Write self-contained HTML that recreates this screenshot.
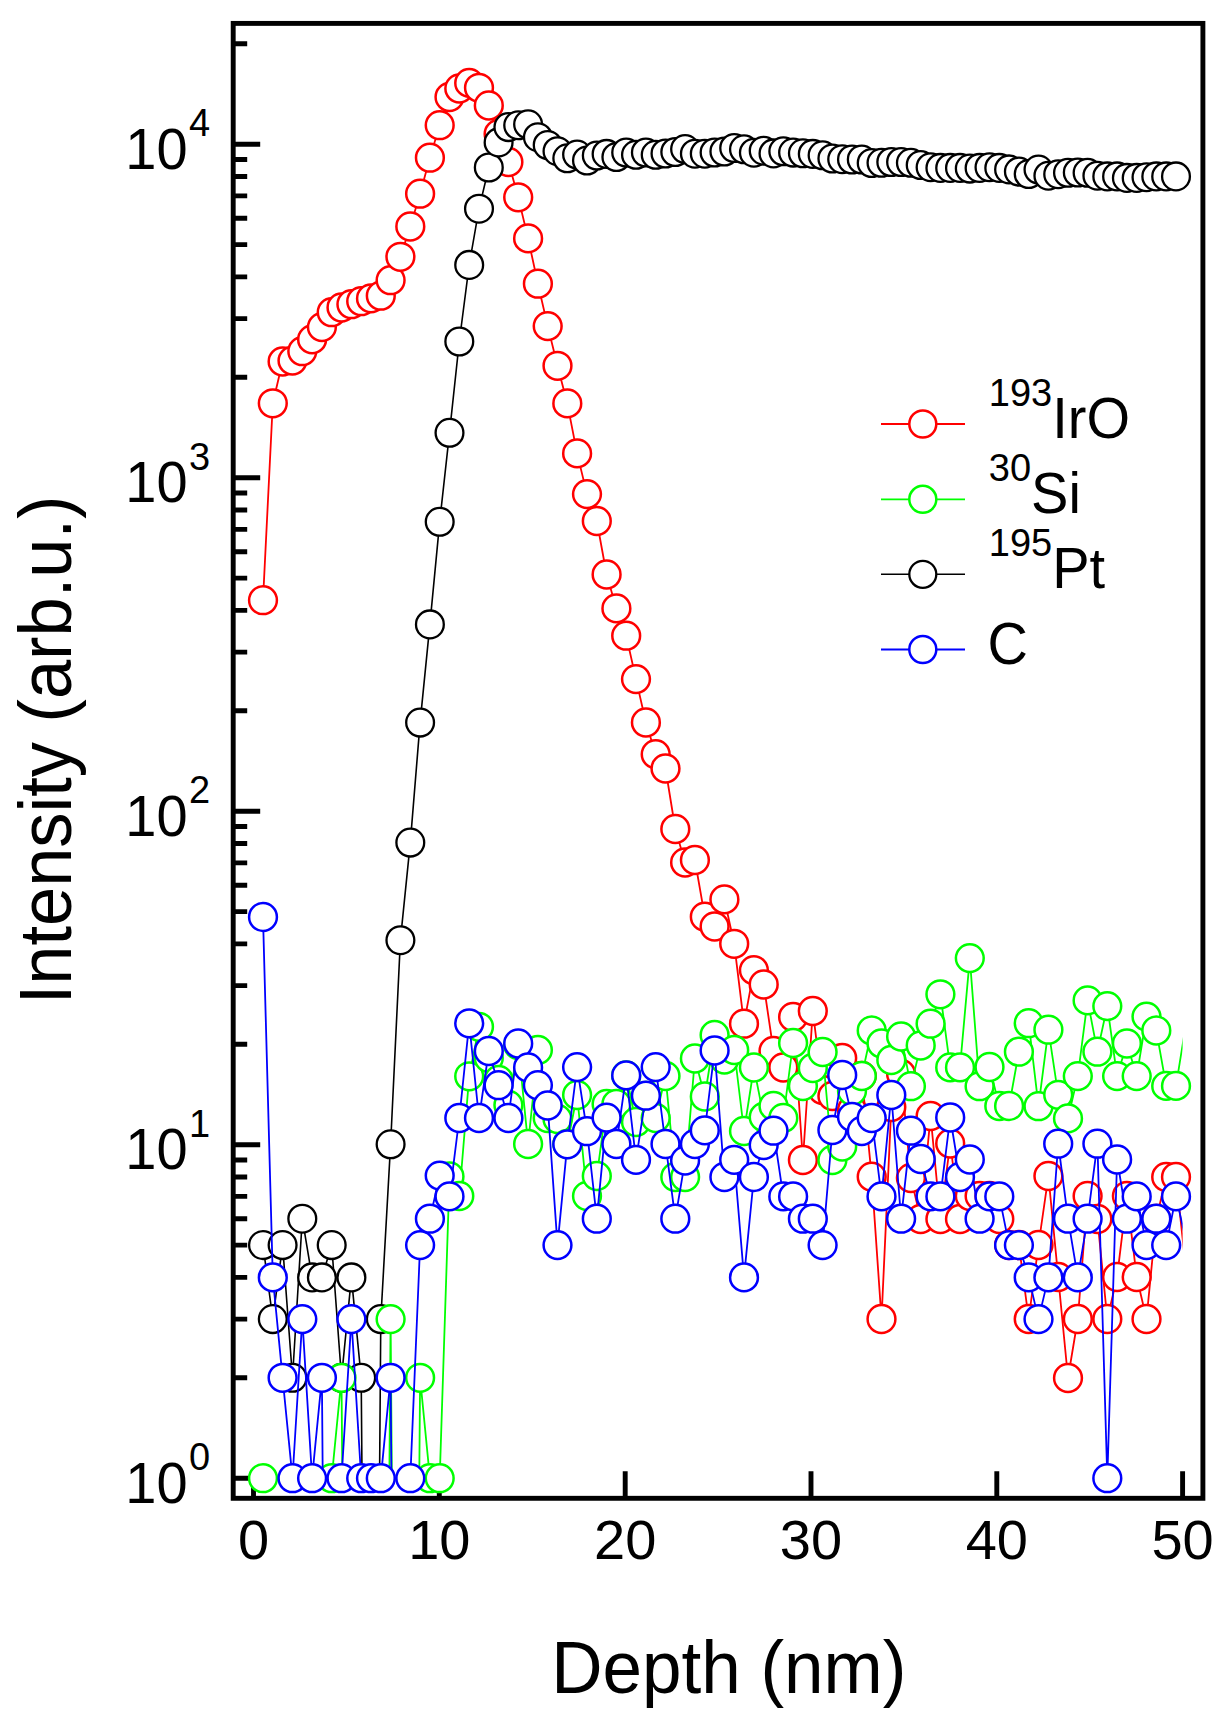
<!DOCTYPE html>
<html><head><meta charset="utf-8"><title>Depth profile</title><style>
html,body{margin:0;padding:0;background:#fff;width:1228px;height:1724px;overflow:hidden}
svg{display:block}
text{font-family:"Liberation Sans",sans-serif;fill:#000}
</style></head><body>
<svg width="1228" height="1724" viewBox="0 0 1228 1724">
<rect x="0" y="0" width="1228" height="1724" fill="#fff"/>
<defs><clipPath id="cl"><rect x="253.5" y="43.8" width="929.1" height="1434.4"/></clipPath></defs>
<rect x="233.2" y="23.4" width="969.7" height="1474.9" fill="none" stroke="#000" stroke-width="4.9"/>
<path d="M233.2 1478.2 H260.2 M233.2 1377.8 H247.2 M233.2 1319.1 H247.2 M233.2 1277.4 H247.2 M233.2 1245.1 H247.2 M233.2 1218.7 H247.2 M233.2 1196.4 H247.2 M233.2 1177 H247.2 M233.2 1160 H247.2 M233.2 1144.7 H260.2 M233.2 1044.3 H247.2 M233.2 985.6 H247.2 M233.2 943.9 H247.2 M233.2 911.6 H247.2 M233.2 885.2 H247.2 M233.2 862.9 H247.2 M233.2 843.5 H247.2 M233.2 826.5 H247.2 M233.2 811.2 H260.2 M233.2 710.8 H247.2 M233.2 652.1 H247.2 M233.2 610.4 H247.2 M233.2 578.1 H247.2 M233.2 551.7 H247.2 M233.2 529.4 H247.2 M233.2 510 H247.2 M233.2 493 H247.2 M233.2 477.7 H260.2 M233.2 377.3 H247.2 M233.2 318.6 H247.2 M233.2 276.9 H247.2 M233.2 244.6 H247.2 M233.2 218.2 H247.2 M233.2 195.9 H247.2 M233.2 176.5 H247.2 M233.2 159.5 H247.2 M233.2 144.2 H260.2 M233.2 43.8 H247.2 M253.5 1498.3 V1471.3 M439.3 1498.3 V1471.3 M625.2 1498.3 V1471.3 M811 1498.3 V1471.3 M996.8 1498.3 V1471.3 M1182.6 1498.3 V1471.3" stroke="#000" stroke-width="4.9" fill="none"/>
<path d="M263 600.2 L272.8 403.3 L282.6 361.5 L292.5 360.6 L302.3 351.2 L312.1 339.4 L321.9 327.1 L331.7 312.2 L341.5 307.5 L351.4 304.2 L361.2 301.2 L371 298.4 L380.8 295.7 L390.6 280.2 L400.4 256.8 L410.3 226.5 L420.1 193.7 L429.9 157.7 L439.7 125.2 L449.5 97 L459.3 88.5 L469.2 82.9 L479 87.8 L488.8 105.5 L498.6 134 L508.4 162 L518.2 197.3 L528.1 238.4 L537.9 283.7 L547.7 326.1 L557.5 365.8 L567.3 403.4 L577.1 453.4 L587 494.1 L596.8 521 L606.6 574.5 L616.4 608.4 L626.2 635.7 L636 679.1 L645.9 722.5 L655.7 754.2 L665.5 768.5 L675.3 829 L685.1 862.5 L694.9 860 L704.8 916.7 L714.6 926.5 L724.4 899.4 L734.2 943.8 L744 1023.7 L753.9 970.2 L763.7 984.5 L773.5 1051 L783.3 1067.5 L793.1 1017 L802.9 1160 L812.8 1011 L822.6 1090 L832.4 1096 L842.2 1058 L852 1110 L861.8 1076 L871.7 1176.7 L881.5 1319 L891.3 1107 L901.1 1074 L910.9 1178 L920.7 1219 L930.6 1116 L940.4 1219 L950.2 1143.5 L960 1219 L969.8 1196 L979.6 1196 L989.5 1196 L999.3 1219 L1009.1 1245 L1018.9 1245 L1028.7 1319 L1038.5 1245 L1048.4 1176 L1058.2 1277 L1068 1378 L1077.8 1319 L1087.6 1196 L1097.4 1219 L1107.3 1319 L1117.1 1277 L1126.9 1196 L1136.7 1277 L1146.5 1319 L1156.3 1219 L1166.2 1177 L1176 1177 L1185.8 1268" fill="none" stroke="#ff0000" stroke-width="1.8" stroke-linejoin="round" clip-path="url(#cl)"/>
<g fill="#fff" stroke="#ff0000" stroke-width="2.5">
<circle cx="263" cy="600.2" r="13.9"/>
<circle cx="272.8" cy="403.3" r="13.9"/>
<circle cx="282.6" cy="361.5" r="13.9"/>
<circle cx="292.5" cy="360.6" r="13.9"/>
<circle cx="302.3" cy="351.2" r="13.9"/>
<circle cx="312.1" cy="339.4" r="13.9"/>
<circle cx="321.9" cy="327.1" r="13.9"/>
<circle cx="331.7" cy="312.2" r="13.9"/>
<circle cx="341.5" cy="307.5" r="13.9"/>
<circle cx="351.4" cy="304.2" r="13.9"/>
<circle cx="361.2" cy="301.2" r="13.9"/>
<circle cx="371" cy="298.4" r="13.9"/>
<circle cx="380.8" cy="295.7" r="13.9"/>
<circle cx="390.6" cy="280.2" r="13.9"/>
<circle cx="400.4" cy="256.8" r="13.9"/>
<circle cx="410.3" cy="226.5" r="13.9"/>
<circle cx="420.1" cy="193.7" r="13.9"/>
<circle cx="429.9" cy="157.7" r="13.9"/>
<circle cx="439.7" cy="125.2" r="13.9"/>
<circle cx="449.5" cy="97" r="13.9"/>
<circle cx="459.3" cy="88.5" r="13.9"/>
<circle cx="469.2" cy="82.9" r="13.9"/>
<circle cx="479" cy="87.8" r="13.9"/>
<circle cx="488.8" cy="105.5" r="13.9"/>
<circle cx="498.6" cy="134" r="13.9"/>
<circle cx="508.4" cy="162" r="13.9"/>
<circle cx="518.2" cy="197.3" r="13.9"/>
<circle cx="528.1" cy="238.4" r="13.9"/>
<circle cx="537.9" cy="283.7" r="13.9"/>
<circle cx="547.7" cy="326.1" r="13.9"/>
<circle cx="557.5" cy="365.8" r="13.9"/>
<circle cx="567.3" cy="403.4" r="13.9"/>
<circle cx="577.1" cy="453.4" r="13.9"/>
<circle cx="587" cy="494.1" r="13.9"/>
<circle cx="596.8" cy="521" r="13.9"/>
<circle cx="606.6" cy="574.5" r="13.9"/>
<circle cx="616.4" cy="608.4" r="13.9"/>
<circle cx="626.2" cy="635.7" r="13.9"/>
<circle cx="636" cy="679.1" r="13.9"/>
<circle cx="645.9" cy="722.5" r="13.9"/>
<circle cx="655.7" cy="754.2" r="13.9"/>
<circle cx="665.5" cy="768.5" r="13.9"/>
<circle cx="675.3" cy="829" r="13.9"/>
<circle cx="685.1" cy="862.5" r="13.9"/>
<circle cx="694.9" cy="860" r="13.9"/>
<circle cx="704.8" cy="916.7" r="13.9"/>
<circle cx="714.6" cy="926.5" r="13.9"/>
<circle cx="724.4" cy="899.4" r="13.9"/>
<circle cx="734.2" cy="943.8" r="13.9"/>
<circle cx="744" cy="1023.7" r="13.9"/>
<circle cx="753.9" cy="970.2" r="13.9"/>
<circle cx="763.7" cy="984.5" r="13.9"/>
<circle cx="773.5" cy="1051" r="13.9"/>
<circle cx="783.3" cy="1067.5" r="13.9"/>
<circle cx="793.1" cy="1017" r="13.9"/>
<circle cx="802.9" cy="1160" r="13.9"/>
<circle cx="812.8" cy="1011" r="13.9"/>
<circle cx="822.6" cy="1090" r="13.9"/>
<circle cx="832.4" cy="1096" r="13.9"/>
<circle cx="842.2" cy="1058" r="13.9"/>
<circle cx="852" cy="1110" r="13.9"/>
<circle cx="861.8" cy="1076" r="13.9"/>
<circle cx="871.7" cy="1176.7" r="13.9"/>
<circle cx="881.5" cy="1319" r="13.9"/>
<circle cx="891.3" cy="1107" r="13.9"/>
<circle cx="901.1" cy="1074" r="13.9"/>
<circle cx="910.9" cy="1178" r="13.9"/>
<circle cx="920.7" cy="1219" r="13.9"/>
<circle cx="930.6" cy="1116" r="13.9"/>
<circle cx="940.4" cy="1219" r="13.9"/>
<circle cx="950.2" cy="1143.5" r="13.9"/>
<circle cx="960" cy="1219" r="13.9"/>
<circle cx="969.8" cy="1196" r="13.9"/>
<circle cx="979.6" cy="1196" r="13.9"/>
<circle cx="989.5" cy="1196" r="13.9"/>
<circle cx="999.3" cy="1219" r="13.9"/>
<circle cx="1009.1" cy="1245" r="13.9"/>
<circle cx="1018.9" cy="1245" r="13.9"/>
<circle cx="1028.7" cy="1319" r="13.9"/>
<circle cx="1038.5" cy="1245" r="13.9"/>
<circle cx="1048.4" cy="1176" r="13.9"/>
<circle cx="1058.2" cy="1277" r="13.9"/>
<circle cx="1068" cy="1378" r="13.9"/>
<circle cx="1077.8" cy="1319" r="13.9"/>
<circle cx="1087.6" cy="1196" r="13.9"/>
<circle cx="1097.4" cy="1219" r="13.9"/>
<circle cx="1107.3" cy="1319" r="13.9"/>
<circle cx="1117.1" cy="1277" r="13.9"/>
<circle cx="1126.9" cy="1196" r="13.9"/>
<circle cx="1136.7" cy="1277" r="13.9"/>
<circle cx="1146.5" cy="1319" r="13.9"/>
<circle cx="1156.3" cy="1219" r="13.9"/>
<circle cx="1166.2" cy="1177" r="13.9"/>
<circle cx="1176" cy="1177" r="13.9"/>
</g>
<path d="M263 1245.1 L272.8 1319.1 L282.6 1245.1 L292.5 1377.8 L302.3 1218.7 L312.1 1277.4 L321.9 1277.4 L331.7 1245.1 L341.5 1377.8 L351.4 1277.4 L361.2 1377.8 L371 2570 L380.8 1319.1 L390.6 1144.3 L400.4 940.2 L410.3 842.6 L420.1 722.6 L429.9 624.4 L439.7 521.8 L449.5 432.8 L459.3 341.5 L469.2 264.9 L479 208.7 L488.8 167.5 L498.6 142.4 L508.4 127.1 L518.2 125.3 L528.1 124.3 L537.9 137.2 L547.7 145 L557.5 151.2 L567.3 158.3 L577.1 154.6 L587 160.5 L596.8 155.5 L606.6 153.9 L616.4 157 L626.2 152.5 L636 154.8 L645.9 152.5 L655.7 154.8 L665.5 153.5 L675.3 152 L685.1 149.1 L694.9 153.7 L704.8 153.7 L714.6 152.5 L724.4 151.5 L734.2 148 L744 149.3 L753.9 152.7 L763.7 150.7 L773.5 153.4 L783.3 151.3 L793.1 152.6 L802.9 153.3 L812.8 153.9 L822.6 155.3 L832.4 158.5 L842.2 159.2 L852 159.5 L861.8 159.5 L871.7 163 L881.5 162.8 L891.3 162 L901.1 162 L910.9 162.8 L920.7 165 L930.6 167.2 L940.4 167.9 L950.2 167.9 L960 167.9 L969.8 168.6 L979.6 167.9 L989.5 167.2 L999.3 167.9 L1009.1 169.4 L1018.9 171.6 L1028.7 174 L1038.5 169.6 L1048.4 175.7 L1058.2 174.2 L1068 172.8 L1077.8 172.5 L1087.6 172.8 L1097.4 175.7 L1107.3 176.4 L1117.1 176.4 L1126.9 177.9 L1136.7 177.9 L1146.5 177.2 L1156.3 176.4 L1166.2 176.4 L1176 176.4 L1185.8 176" fill="none" stroke="#000000" stroke-width="1.6" stroke-linejoin="round" clip-path="url(#cl)"/>
<g fill="#fff" stroke="#000000" stroke-width="2.3">
<circle cx="263" cy="1245.1" r="13.9"/>
<circle cx="272.8" cy="1319.1" r="13.9"/>
<circle cx="282.6" cy="1245.1" r="13.9"/>
<circle cx="292.5" cy="1377.8" r="13.9"/>
<circle cx="302.3" cy="1218.7" r="13.9"/>
<circle cx="312.1" cy="1277.4" r="13.9"/>
<circle cx="321.9" cy="1277.4" r="13.9"/>
<circle cx="331.7" cy="1245.1" r="13.9"/>
<circle cx="341.5" cy="1377.8" r="13.9"/>
<circle cx="351.4" cy="1277.4" r="13.9"/>
<circle cx="361.2" cy="1377.8" r="13.9"/>
<circle cx="380.8" cy="1319.1" r="13.9"/>
<circle cx="390.6" cy="1144.3" r="13.9"/>
<circle cx="400.4" cy="940.2" r="13.9"/>
<circle cx="410.3" cy="842.6" r="13.9"/>
<circle cx="420.1" cy="722.6" r="13.9"/>
<circle cx="429.9" cy="624.4" r="13.9"/>
<circle cx="439.7" cy="521.8" r="13.9"/>
<circle cx="449.5" cy="432.8" r="13.9"/>
<circle cx="459.3" cy="341.5" r="13.9"/>
<circle cx="469.2" cy="264.9" r="13.9"/>
<circle cx="479" cy="208.7" r="13.9"/>
<circle cx="488.8" cy="167.5" r="13.9"/>
<circle cx="498.6" cy="142.4" r="13.9"/>
<circle cx="508.4" cy="127.1" r="13.9"/>
<circle cx="518.2" cy="125.3" r="13.9"/>
<circle cx="528.1" cy="124.3" r="13.9"/>
<circle cx="537.9" cy="137.2" r="13.9"/>
<circle cx="547.7" cy="145" r="13.9"/>
<circle cx="557.5" cy="151.2" r="13.9"/>
<circle cx="567.3" cy="158.3" r="13.9"/>
<circle cx="577.1" cy="154.6" r="13.9"/>
<circle cx="587" cy="160.5" r="13.9"/>
<circle cx="596.8" cy="155.5" r="13.9"/>
<circle cx="606.6" cy="153.9" r="13.9"/>
<circle cx="616.4" cy="157" r="13.9"/>
<circle cx="626.2" cy="152.5" r="13.9"/>
<circle cx="636" cy="154.8" r="13.9"/>
<circle cx="645.9" cy="152.5" r="13.9"/>
<circle cx="655.7" cy="154.8" r="13.9"/>
<circle cx="665.5" cy="153.5" r="13.9"/>
<circle cx="675.3" cy="152" r="13.9"/>
<circle cx="685.1" cy="149.1" r="13.9"/>
<circle cx="694.9" cy="153.7" r="13.9"/>
<circle cx="704.8" cy="153.7" r="13.9"/>
<circle cx="714.6" cy="152.5" r="13.9"/>
<circle cx="724.4" cy="151.5" r="13.9"/>
<circle cx="734.2" cy="148" r="13.9"/>
<circle cx="744" cy="149.3" r="13.9"/>
<circle cx="753.9" cy="152.7" r="13.9"/>
<circle cx="763.7" cy="150.7" r="13.9"/>
<circle cx="773.5" cy="153.4" r="13.9"/>
<circle cx="783.3" cy="151.3" r="13.9"/>
<circle cx="793.1" cy="152.6" r="13.9"/>
<circle cx="802.9" cy="153.3" r="13.9"/>
<circle cx="812.8" cy="153.9" r="13.9"/>
<circle cx="822.6" cy="155.3" r="13.9"/>
<circle cx="832.4" cy="158.5" r="13.9"/>
<circle cx="842.2" cy="159.2" r="13.9"/>
<circle cx="852" cy="159.5" r="13.9"/>
<circle cx="861.8" cy="159.5" r="13.9"/>
<circle cx="871.7" cy="163" r="13.9"/>
<circle cx="881.5" cy="162.8" r="13.9"/>
<circle cx="891.3" cy="162" r="13.9"/>
<circle cx="901.1" cy="162" r="13.9"/>
<circle cx="910.9" cy="162.8" r="13.9"/>
<circle cx="920.7" cy="165" r="13.9"/>
<circle cx="930.6" cy="167.2" r="13.9"/>
<circle cx="940.4" cy="167.9" r="13.9"/>
<circle cx="950.2" cy="167.9" r="13.9"/>
<circle cx="960" cy="167.9" r="13.9"/>
<circle cx="969.8" cy="168.6" r="13.9"/>
<circle cx="979.6" cy="167.9" r="13.9"/>
<circle cx="989.5" cy="167.2" r="13.9"/>
<circle cx="999.3" cy="167.9" r="13.9"/>
<circle cx="1009.1" cy="169.4" r="13.9"/>
<circle cx="1018.9" cy="171.6" r="13.9"/>
<circle cx="1028.7" cy="174" r="13.9"/>
<circle cx="1038.5" cy="169.6" r="13.9"/>
<circle cx="1048.4" cy="175.7" r="13.9"/>
<circle cx="1058.2" cy="174.2" r="13.9"/>
<circle cx="1068" cy="172.8" r="13.9"/>
<circle cx="1077.8" cy="172.5" r="13.9"/>
<circle cx="1087.6" cy="172.8" r="13.9"/>
<circle cx="1097.4" cy="175.7" r="13.9"/>
<circle cx="1107.3" cy="176.4" r="13.9"/>
<circle cx="1117.1" cy="176.4" r="13.9"/>
<circle cx="1126.9" cy="177.9" r="13.9"/>
<circle cx="1136.7" cy="177.9" r="13.9"/>
<circle cx="1146.5" cy="177.2" r="13.9"/>
<circle cx="1156.3" cy="176.4" r="13.9"/>
<circle cx="1166.2" cy="176.4" r="13.9"/>
<circle cx="1176" cy="176.4" r="13.9"/>
</g>
<path d="M263 1478.2 L272.8 2570 L282.6 2570 L292.5 2570 L302.3 2570 L312.1 2570 L321.9 2570 L331.7 1478.2 L341.5 1377.8 L351.4 2570 L361.2 2570 L371 2570 L380.8 2570 L390.6 1319.1 L400.4 2570 L410.3 2570 L420.1 1377.8 L429.9 1478.2 L439.7 1478.2 L449.5 1176.4 L459.3 1196 L469.2 1076.3 L479 1026.8 L488.8 1058 L498.6 1080 L508.4 1105 L518.2 1045 L528.1 1144 L537.9 1050 L547.7 1118 L557.5 1119 L567.3 1144 L577.1 1095 L587 1196 L596.8 1176 L606.6 1104 L616.4 1104 L626.2 1075.4 L636 1122 L645.9 1096 L655.7 1118 L665.5 1076 L675.3 1177 L685.1 1177 L694.9 1058.5 L704.8 1096.5 L714.6 1035 L724.4 1059.5 L734.2 1050 L744 1131 L753.9 1067.5 L763.7 1117 L773.5 1106 L783.3 1118 L793.1 1043 L802.9 1086 L812.8 1068 L822.6 1052 L832.4 1160 L842.2 1146.5 L852 1091 L861.8 1076 L871.7 1030.5 L881.5 1043.5 L891.3 1060 L901.1 1036.5 L910.9 1086.2 L920.7 1045.5 L930.6 1023.7 L940.4 994.3 L950.2 1067.4 L960 1067.4 L969.8 958.1 L979.6 1086.2 L989.5 1067 L999.3 1106 L1009.1 1106 L1018.9 1051.7 L1028.7 1023.2 L1038.5 1106.2 L1048.4 1029.7 L1058.2 1094.8 L1068 1118.4 L1077.8 1076.1 L1087.6 1000.4 L1097.4 1051.7 L1107.3 1006.1 L1117.1 1076.1 L1126.9 1043.5 L1136.7 1076.1 L1146.5 1016.6 L1156.3 1030.5 L1166.2 1085.9 L1176 1085.9 L1185.8 1025" fill="none" stroke="#00ff00" stroke-width="1.8" stroke-linejoin="round" clip-path="url(#cl)"/>
<g fill="#fff" stroke="#00ff00" stroke-width="2.5">
<circle cx="263" cy="1478.2" r="13.9"/>
<circle cx="331.7" cy="1478.2" r="13.9"/>
<circle cx="341.5" cy="1377.8" r="13.9"/>
<circle cx="390.6" cy="1319.1" r="13.9"/>
<circle cx="420.1" cy="1377.8" r="13.9"/>
<circle cx="429.9" cy="1478.2" r="13.9"/>
<circle cx="439.7" cy="1478.2" r="13.9"/>
<circle cx="449.5" cy="1176.4" r="13.9"/>
<circle cx="459.3" cy="1196" r="13.9"/>
<circle cx="469.2" cy="1076.3" r="13.9"/>
<circle cx="479" cy="1026.8" r="13.9"/>
<circle cx="488.8" cy="1058" r="13.9"/>
<circle cx="498.6" cy="1080" r="13.9"/>
<circle cx="508.4" cy="1105" r="13.9"/>
<circle cx="518.2" cy="1045" r="13.9"/>
<circle cx="528.1" cy="1144" r="13.9"/>
<circle cx="537.9" cy="1050" r="13.9"/>
<circle cx="547.7" cy="1118" r="13.9"/>
<circle cx="557.5" cy="1119" r="13.9"/>
<circle cx="567.3" cy="1144" r="13.9"/>
<circle cx="577.1" cy="1095" r="13.9"/>
<circle cx="587" cy="1196" r="13.9"/>
<circle cx="596.8" cy="1176" r="13.9"/>
<circle cx="606.6" cy="1104" r="13.9"/>
<circle cx="616.4" cy="1104" r="13.9"/>
<circle cx="626.2" cy="1075.4" r="13.9"/>
<circle cx="636" cy="1122" r="13.9"/>
<circle cx="645.9" cy="1096" r="13.9"/>
<circle cx="655.7" cy="1118" r="13.9"/>
<circle cx="665.5" cy="1076" r="13.9"/>
<circle cx="675.3" cy="1177" r="13.9"/>
<circle cx="685.1" cy="1177" r="13.9"/>
<circle cx="694.9" cy="1058.5" r="13.9"/>
<circle cx="704.8" cy="1096.5" r="13.9"/>
<circle cx="714.6" cy="1035" r="13.9"/>
<circle cx="724.4" cy="1059.5" r="13.9"/>
<circle cx="734.2" cy="1050" r="13.9"/>
<circle cx="744" cy="1131" r="13.9"/>
<circle cx="753.9" cy="1067.5" r="13.9"/>
<circle cx="763.7" cy="1117" r="13.9"/>
<circle cx="773.5" cy="1106" r="13.9"/>
<circle cx="783.3" cy="1118" r="13.9"/>
<circle cx="793.1" cy="1043" r="13.9"/>
<circle cx="802.9" cy="1086" r="13.9"/>
<circle cx="812.8" cy="1068" r="13.9"/>
<circle cx="822.6" cy="1052" r="13.9"/>
<circle cx="832.4" cy="1160" r="13.9"/>
<circle cx="842.2" cy="1146.5" r="13.9"/>
<circle cx="852" cy="1091" r="13.9"/>
<circle cx="861.8" cy="1076" r="13.9"/>
<circle cx="871.7" cy="1030.5" r="13.9"/>
<circle cx="881.5" cy="1043.5" r="13.9"/>
<circle cx="891.3" cy="1060" r="13.9"/>
<circle cx="901.1" cy="1036.5" r="13.9"/>
<circle cx="910.9" cy="1086.2" r="13.9"/>
<circle cx="920.7" cy="1045.5" r="13.9"/>
<circle cx="930.6" cy="1023.7" r="13.9"/>
<circle cx="940.4" cy="994.3" r="13.9"/>
<circle cx="950.2" cy="1067.4" r="13.9"/>
<circle cx="960" cy="1067.4" r="13.9"/>
<circle cx="969.8" cy="958.1" r="13.9"/>
<circle cx="979.6" cy="1086.2" r="13.9"/>
<circle cx="989.5" cy="1067" r="13.9"/>
<circle cx="999.3" cy="1106" r="13.9"/>
<circle cx="1009.1" cy="1106" r="13.9"/>
<circle cx="1018.9" cy="1051.7" r="13.9"/>
<circle cx="1028.7" cy="1023.2" r="13.9"/>
<circle cx="1038.5" cy="1106.2" r="13.9"/>
<circle cx="1048.4" cy="1029.7" r="13.9"/>
<circle cx="1058.2" cy="1094.8" r="13.9"/>
<circle cx="1068" cy="1118.4" r="13.9"/>
<circle cx="1077.8" cy="1076.1" r="13.9"/>
<circle cx="1087.6" cy="1000.4" r="13.9"/>
<circle cx="1097.4" cy="1051.7" r="13.9"/>
<circle cx="1107.3" cy="1006.1" r="13.9"/>
<circle cx="1117.1" cy="1076.1" r="13.9"/>
<circle cx="1126.9" cy="1043.5" r="13.9"/>
<circle cx="1136.7" cy="1076.1" r="13.9"/>
<circle cx="1146.5" cy="1016.6" r="13.9"/>
<circle cx="1156.3" cy="1030.5" r="13.9"/>
<circle cx="1166.2" cy="1085.9" r="13.9"/>
<circle cx="1176" cy="1085.9" r="13.9"/>
</g>
<path d="M263 917 L272.8 1277.4 L282.6 1377.8 L292.5 1478.2 L302.3 1319.1 L312.1 1478.2 L321.9 1377.8 L331.7 2570 L341.5 1478.2 L351.4 1319.1 L361.2 1478.2 L371 1478.2 L380.8 1478.2 L390.6 1377.8 L400.4 2570 L410.3 1478.2 L420.1 1245.1 L429.9 1218.7 L439.7 1175.6 L449.5 1196.4 L459.3 1118 L469.2 1023.3 L479 1118 L488.8 1051 L498.6 1085.2 L508.4 1118 L518.2 1043.5 L528.1 1067.5 L537.9 1085.2 L547.7 1105.5 L557.5 1245.1 L567.3 1144.3 L577.1 1067.1 L587 1131.2 L596.8 1218.7 L606.6 1117.6 L616.4 1144 L626.2 1075.4 L636 1159.8 L645.9 1095.7 L655.7 1067.1 L665.5 1144 L675.3 1218.7 L685.1 1160.6 L694.9 1144 L704.8 1130.4 L714.6 1050.5 L724.4 1177 L734.2 1159.8 L744 1277.4 L753.9 1177 L763.7 1145 L773.5 1130.7 L783.3 1196.4 L793.1 1196.4 L802.9 1218.7 L812.8 1218.7 L822.6 1245.1 L832.4 1130 L842.2 1075 L852 1117 L861.8 1131 L871.7 1118 L881.5 1196.4 L891.3 1095 L901.1 1218.7 L910.9 1130.7 L920.7 1159 L930.6 1196.4 L940.4 1196.4 L950.2 1117.5 L960 1177 L969.8 1159.5 L979.6 1218.7 L989.5 1196.4 L999.3 1196.4 L1009.1 1245.1 L1018.9 1245.1 L1028.7 1277.4 L1038.5 1319.1 L1048.4 1277.4 L1058.2 1143.7 L1068 1218.7 L1077.8 1277.4 L1087.6 1218.7 L1097.4 1143.7 L1107.3 1478.2 L1117.1 1159.5 L1126.9 1218.7 L1136.7 1196.4 L1146.5 1245.1 L1156.3 1218.7 L1166.2 1245.1 L1176 1196.4 L1185.8 1240" fill="none" stroke="#0000ff" stroke-width="1.8" stroke-linejoin="round" clip-path="url(#cl)"/>
<g fill="#fff" stroke="#0000ff" stroke-width="2.5">
<circle cx="263" cy="917" r="13.9"/>
<circle cx="272.8" cy="1277.4" r="13.9"/>
<circle cx="282.6" cy="1377.8" r="13.9"/>
<circle cx="292.5" cy="1478.2" r="13.9"/>
<circle cx="302.3" cy="1319.1" r="13.9"/>
<circle cx="312.1" cy="1478.2" r="13.9"/>
<circle cx="321.9" cy="1377.8" r="13.9"/>
<circle cx="341.5" cy="1478.2" r="13.9"/>
<circle cx="351.4" cy="1319.1" r="13.9"/>
<circle cx="361.2" cy="1478.2" r="13.9"/>
<circle cx="371" cy="1478.2" r="13.9"/>
<circle cx="380.8" cy="1478.2" r="13.9"/>
<circle cx="390.6" cy="1377.8" r="13.9"/>
<circle cx="410.3" cy="1478.2" r="13.9"/>
<circle cx="420.1" cy="1245.1" r="13.9"/>
<circle cx="429.9" cy="1218.7" r="13.9"/>
<circle cx="439.7" cy="1175.6" r="13.9"/>
<circle cx="449.5" cy="1196.4" r="13.9"/>
<circle cx="459.3" cy="1118" r="13.9"/>
<circle cx="469.2" cy="1023.3" r="13.9"/>
<circle cx="479" cy="1118" r="13.9"/>
<circle cx="488.8" cy="1051" r="13.9"/>
<circle cx="498.6" cy="1085.2" r="13.9"/>
<circle cx="508.4" cy="1118" r="13.9"/>
<circle cx="518.2" cy="1043.5" r="13.9"/>
<circle cx="528.1" cy="1067.5" r="13.9"/>
<circle cx="537.9" cy="1085.2" r="13.9"/>
<circle cx="547.7" cy="1105.5" r="13.9"/>
<circle cx="557.5" cy="1245.1" r="13.9"/>
<circle cx="567.3" cy="1144.3" r="13.9"/>
<circle cx="577.1" cy="1067.1" r="13.9"/>
<circle cx="587" cy="1131.2" r="13.9"/>
<circle cx="596.8" cy="1218.7" r="13.9"/>
<circle cx="606.6" cy="1117.6" r="13.9"/>
<circle cx="616.4" cy="1144" r="13.9"/>
<circle cx="626.2" cy="1075.4" r="13.9"/>
<circle cx="636" cy="1159.8" r="13.9"/>
<circle cx="645.9" cy="1095.7" r="13.9"/>
<circle cx="655.7" cy="1067.1" r="13.9"/>
<circle cx="665.5" cy="1144" r="13.9"/>
<circle cx="675.3" cy="1218.7" r="13.9"/>
<circle cx="685.1" cy="1160.6" r="13.9"/>
<circle cx="694.9" cy="1144" r="13.9"/>
<circle cx="704.8" cy="1130.4" r="13.9"/>
<circle cx="714.6" cy="1050.5" r="13.9"/>
<circle cx="724.4" cy="1177" r="13.9"/>
<circle cx="734.2" cy="1159.8" r="13.9"/>
<circle cx="744" cy="1277.4" r="13.9"/>
<circle cx="753.9" cy="1177" r="13.9"/>
<circle cx="763.7" cy="1145" r="13.9"/>
<circle cx="773.5" cy="1130.7" r="13.9"/>
<circle cx="783.3" cy="1196.4" r="13.9"/>
<circle cx="793.1" cy="1196.4" r="13.9"/>
<circle cx="802.9" cy="1218.7" r="13.9"/>
<circle cx="812.8" cy="1218.7" r="13.9"/>
<circle cx="822.6" cy="1245.1" r="13.9"/>
<circle cx="832.4" cy="1130" r="13.9"/>
<circle cx="842.2" cy="1075" r="13.9"/>
<circle cx="852" cy="1117" r="13.9"/>
<circle cx="861.8" cy="1131" r="13.9"/>
<circle cx="871.7" cy="1118" r="13.9"/>
<circle cx="881.5" cy="1196.4" r="13.9"/>
<circle cx="891.3" cy="1095" r="13.9"/>
<circle cx="901.1" cy="1218.7" r="13.9"/>
<circle cx="910.9" cy="1130.7" r="13.9"/>
<circle cx="920.7" cy="1159" r="13.9"/>
<circle cx="930.6" cy="1196.4" r="13.9"/>
<circle cx="940.4" cy="1196.4" r="13.9"/>
<circle cx="950.2" cy="1117.5" r="13.9"/>
<circle cx="960" cy="1177" r="13.9"/>
<circle cx="969.8" cy="1159.5" r="13.9"/>
<circle cx="979.6" cy="1218.7" r="13.9"/>
<circle cx="989.5" cy="1196.4" r="13.9"/>
<circle cx="999.3" cy="1196.4" r="13.9"/>
<circle cx="1009.1" cy="1245.1" r="13.9"/>
<circle cx="1018.9" cy="1245.1" r="13.9"/>
<circle cx="1028.7" cy="1277.4" r="13.9"/>
<circle cx="1038.5" cy="1319.1" r="13.9"/>
<circle cx="1048.4" cy="1277.4" r="13.9"/>
<circle cx="1058.2" cy="1143.7" r="13.9"/>
<circle cx="1068" cy="1218.7" r="13.9"/>
<circle cx="1077.8" cy="1277.4" r="13.9"/>
<circle cx="1087.6" cy="1218.7" r="13.9"/>
<circle cx="1097.4" cy="1143.7" r="13.9"/>
<circle cx="1107.3" cy="1478.2" r="13.9"/>
<circle cx="1117.1" cy="1159.5" r="13.9"/>
<circle cx="1126.9" cy="1218.7" r="13.9"/>
<circle cx="1136.7" cy="1196.4" r="13.9"/>
<circle cx="1146.5" cy="1245.1" r="13.9"/>
<circle cx="1156.3" cy="1218.7" r="13.9"/>
<circle cx="1166.2" cy="1245.1" r="13.9"/>
<circle cx="1176" cy="1196.4" r="13.9"/>
</g>
<text transform="translate(187.6 1502.6) scale(1 1.02)" font-size="56" text-anchor="end">10</text>
<text x="189" y="1470.2" font-size="38">0</text>
<text transform="translate(187.6 1169.1) scale(1 1.02)" font-size="56" text-anchor="end">10</text>
<text x="189" y="1136.7" font-size="38">1</text>
<text transform="translate(187.6 835.6) scale(1 1.02)" font-size="56" text-anchor="end">10</text>
<text x="189" y="803.2" font-size="38">2</text>
<text transform="translate(187.6 502.1) scale(1 1.02)" font-size="56" text-anchor="end">10</text>
<text x="189" y="469.7" font-size="38">3</text>
<text transform="translate(187.6 168.6) scale(1 1.02)" font-size="56" text-anchor="end">10</text>
<text x="189" y="136.2" font-size="38">4</text>
<text x="253.5" y="1558.5" font-size="56" text-anchor="middle">0</text>
<text x="439.3" y="1558.5" font-size="56" text-anchor="middle">10</text>
<text x="625.2" y="1558.5" font-size="56" text-anchor="middle">20</text>
<text x="811" y="1558.5" font-size="56" text-anchor="middle">30</text>
<text x="996.8" y="1558.5" font-size="56" text-anchor="middle">40</text>
<text x="1182.6" y="1558.5" font-size="56" text-anchor="middle">50</text>
<text transform="translate(728.8 1693.3) scale(1 1.04)" font-size="71" text-anchor="middle">Depth (nm)</text>
<text transform="translate(70.8 749.9) rotate(-90) scale(1 1.05)" font-size="70.4" text-anchor="middle">Intensity (arb.u.)</text>
<path d="M881 424 H965" stroke="#ff0000" stroke-width="1.8"/>
<circle cx="922.8" cy="424" r="13.5" fill="#fff" stroke="#ff0000" stroke-width="2.5"/>
<text transform="translate(988.8 437.8) scale(1 1.04)" font-size="56"><tspan font-size="38" dy="-30.6">193</tspan><tspan dy="30.6">IrO</tspan></text>
<path d="M881 499.3 H965" stroke="#00ff00" stroke-width="1.8"/>
<circle cx="922.8" cy="499.3" r="13.5" fill="#fff" stroke="#00ff00" stroke-width="2.5"/>
<text transform="translate(988.8 513.1) scale(1 1.04)" font-size="56"><tspan font-size="38" dy="-30.6">30</tspan><tspan dy="30.6">Si</tspan></text>
<path d="M881 574.3 H965" stroke="#000000" stroke-width="1.6"/>
<circle cx="922.8" cy="574.3" r="13.5" fill="#fff" stroke="#000000" stroke-width="2.3"/>
<text transform="translate(988.8 588.1) scale(1 1.04)" font-size="56"><tspan font-size="38" dy="-30.6">195</tspan><tspan dy="30.6">Pt</tspan></text>
<path d="M881 649.5 H965" stroke="#0000ff" stroke-width="1.8"/>
<circle cx="922.8" cy="649.5" r="13.5" fill="#fff" stroke="#0000ff" stroke-width="2.5"/>
<text transform="translate(987.6 663.9) scale(1 1.05)" font-size="56">C</text>
</svg></body></html>
